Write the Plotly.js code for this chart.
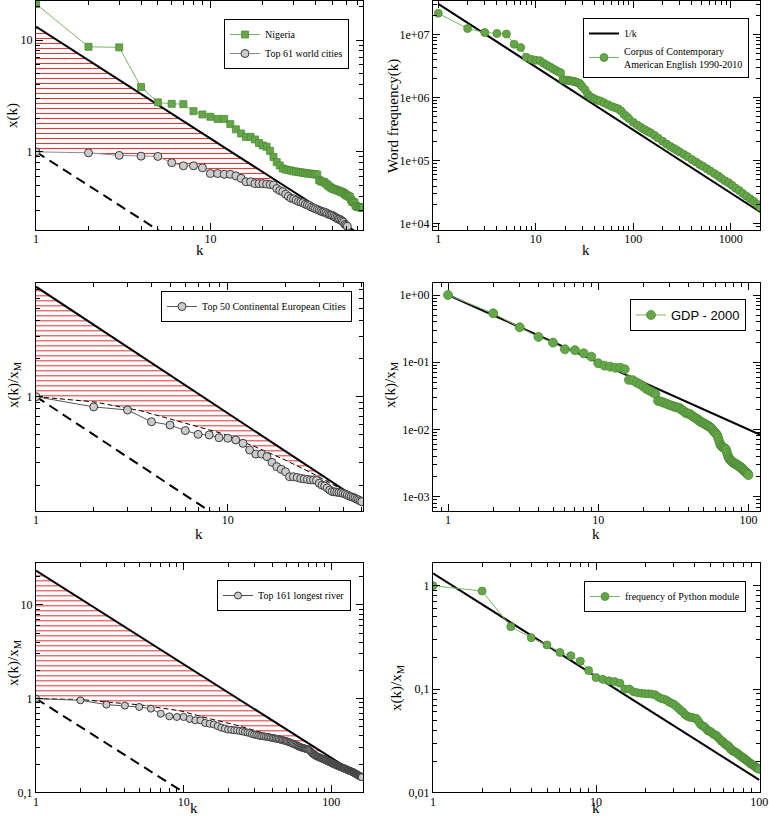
<!DOCTYPE html>
<html><head><meta charset="utf-8">
<script src="https://cdn.plot.ly/plotly-3.0.1.min.js"></script>
<style>html,body{margin:0;padding:0;background:#fff}#chart{width:769px;height:818px}</style>
</head><body><div id="chart"></div>
<script>
// ---------------- DATA ----------------
// Panel 1: Nigeria cities and top 61 world cities
const nigeriaVals = [21.0,8.7,8.6,3.8,2.77,2.69,2.67,2.31,2.16,2.06,1.97,1.97,1.77,1.59,1.46,1.36,1.36,1.29,1.20,1.14,1.11,1.02,0.90,0.81,0.755,0.71,0.695,0.686,
 0.68,0.67,0.665,0.66,0.655,0.65,0.645,0.64,0.64,0.635,0.63,0.63,0.625,
 0.56,0.545,0.54,0.535,0.52,0.505,0.49,0.48,0.47,
 0.465,0.46,0.455,0.45,0.445,0.44,0.435,
 0.43,0.42,0.41,0.405,0.40,0.395,
 0.375,0.36,0.355,0.35,
 0.33,0.325,0.322,0.32,0.32,0.318,0.317,0.316];
const worldCitiesVals = [1.0,0.98,0.93,0.915,0.91,0.80,0.75,0.75,0.72,0.64,0.64,0.63,0.63,0.61,0.58,0.54,0.54,0.52,0.52,0.52,0.515,0.51,0.505,0.47,0.45,0.44,0.418,0.40,0.385,0.38,
 0.37,0.36,0.355,0.35,0.34,0.335,0.33,0.32,0.315,0.31,
 0.305,0.30,0.295,0.29,0.29,0.285,0.28,0.275,0.272,0.27,
 0.265,0.26,0.255,0.25,0.25,0.245,0.24,0.235,0.225,0.22,0.216];
const hatchEnd1 = 22;           // rank where hatching stops (panel 1)
const refK1 = [1, 75];          // extent of reference lines (panel 1)

// Panel 2: word frequency (COCA)
const wordRanks = [1,2,3,4,5,6,7,8,9,10,11,12,13,14,15,16,17,18,19,20,21,22,23,24,25,26,27,28,29,30,32,34,36,38,40,43,46,50,55,60,65,70,75,80,85,90,100,110,120,130,140,150,165,180,200,220,240,260,280,300,330,360,400,440,480,520,570,620,680,740,800,870,950,1030,1120,1220,1330,1450,1580,1720,1860,2000];
const wordFreq = [2.2e7,1.26e7,1.09e7,1.05e7,1.03e7,7.1e6,6.3e6,4.4e6,4.1e6,3.95e6,3.9e6,3.55e6,3.3e6,3.1e6,2.9e6,2.75e6,2.6e6,2.5e6,1.95e6,1.92e6,1.9e6,1.88e6,1.86e6,1.84e6,1.82e6,1.78e6,1.74e6,1.7e6,1.6e6,1.5e6,1.35e6,1.15e6,1.05e6,1.0e6,9.6e5,9.2e5,8.9e5,8.4e5,7.8e5,7.3e5,7.0e5,6.7e5,6.2e5,5.5e5,5.1e5,4.7e5,4.1e5,3.7e5,3.4e5,3.15e5,2.95e5,2.8e5,2.55e5,2.3e5,2.05e5,1.85e5,1.7e5,1.58e5,1.48e5,1.38e5,1.27e5,1.17e5,1.05e5,9.6e4,8.8e4,8.2e4,7.5e4,6.9e4,6.3e4,5.8e4,5.3e4,4.85e4,4.5e4,4.1e4,3.7e4,3.4e4,3.05e4,2.75e4,2.5e4,2.3e4,2.05e4,1.85e4];
const zipfConst2 = 3.1e7;
const refK2 = [1, 2000];

// Panel 3: top 50 continental European cities
const euroCities = [1.0,0.83,0.785,0.634,0.597,0.54,0.504,0.498,0.474,0.469,0.455,0.428,0.379,0.352,0.352,0.336,0.303,0.28,0.267,0.255,
 0.233,0.233,0.23,0.226,0.224,0.222,0.22,0.22,0.218,0.207,0.2,0.197,0.19,0.183,0.178,0.177,0.176,0.175,0.174,0.172,
 0.17,0.167,0.164,0.162,0.16,0.158,0.155,0.153,0.15,0.148];
const boundK3 = [1, 2, 3.5, 6, 9.3, 14, 20, 28, 36, 45];          // thin dashed boundary curve
const boundY3 = [1, 0.91, 0.775, 0.62, 0.513, 0.40, 0.315, 0.245, 0.20, 0.165];
const refK3 = [1, 51];

// Panel 4: GDP 2000
const gdpVals = [1.0,0.534,0.331,0.238,0.196,0.156,0.151,0.136,0.121,0.0966,0.089,0.086,0.083,0.083,0.0787,0.0547,0.054,0.0499,0.047,0.0435,
 0.040,0.0377,0.0358,0.0338,0.0267,0.026,0.0253,0.0245,0.0238,0.023,0.0225,0.0219,0.0214,0.0212,0.0207,0.0195,0.0189,0.0178,0.0174,0.0172,
 0.0168,0.016,0.0155,0.015,0.0145,0.0142,0.0135,0.013,0.0128,0.0124,0.0122,0.0118,0.0115,0.0113,0.011,0.0106,0.0103,0.0098,0.0093,0.009,
 0.0086,0.0082,0.0074,0.0066,0.006,0.0057,0.0055,0.0054,0.0053,0.0052,0.005,0.0045,0.0041,0.0038,0.0036,0.0035,0.0034,0.0033,0.0032,0.0032,
 0.0031,0.0031,0.003,0.003,0.0029,0.0029,0.0028,0.0028,0.0027,0.0027,0.0026,0.0025,0.0025,0.0024,0.0024,0.0023,0.0023,0.0022,0.0022,0.0021];
const refK4 = [1, 120];

// Panel 5: top 161 longest rivers
const riverVals = [1.0,0.96,0.863,0.842,0.815,0.782,0.69,0.647,0.637,0.637,0.607,0.587,0.587,0.55,0.54,0.53,0.51,0.49,0.48,0.467,
 0.465,0.46,0.457,0.452,0.448,0.44,0.435,0.43,0.42,0.413,
 0.41,0.405,0.40,0.398,0.395,0.392,0.39,0.387,0.383,0.38,
 0.377,0.375,0.372,0.37,0.366,0.362,0.36,0.356,0.353,0.35,
 0.346,0.342,0.338,0.334,0.33,0.327,0.322,0.318,0.314,0.31,
 0.306,0.303,0.30,0.298,0.296,0.294,0.292,0.29,0.288,0.286,
 0.282,0.276,0.27,0.264,0.258,0.254,0.25,0.247,0.244,0.242,
 0.24,0.238,0.236,0.234,0.232,0.23,0.228,0.226,0.225,0.223,
 0.221,0.22,0.218,0.216,0.214,0.213,0.211,0.21,0.208,0.206,
 0.205,0.203,0.202,0.2,0.199,0.198,0.196,0.195,0.194,0.192,
 0.191,0.19,0.189,0.188,0.187,0.186,0.185,0.184,0.183,0.182,
 0.181,0.18,0.179,0.178,0.177,0.176,0.175,0.174,0.173,0.172,
 0.171,0.17,0.17,0.169,0.168,0.167,0.166,0.166,0.165,0.164,
 0.163,0.162,0.161,0.16,0.159,0.158,0.157,0.156,0.155,0.154,
 0.153,0.152,0.151,0.15,0.15,0.149,0.148,0.147,0.146,0.146,0.145];
const boundK5 = [1, 2, 3, 5, 9.5, 14.4, 21.8, 33.6, 37];           // thin dashed boundary curve
const boundY5 = [1, 0.98, 0.92, 0.86, 0.74, 0.62, 0.53, 0.437, 0.41];
const hatchEnd5 = 95;           // hatching follows the data from the end of the dashed curve to this rank
const refK5 = [1, 164];

// Panel 6: Python module frequency
const pythonVals = [1.0,0.888,0.401,0.314,0.267,0.226,0.21,0.186,0.151,0.129,
 0.124,0.12,0.118,0.114,0.1,0.1,0.094,0.092,0.091,0.09,
 0.09,0.089,0.088,0.084,0.081,0.08,0.078,0.075,0.073,0.071,
 0.068,0.065,0.062,0.06,0.057,0.055,0.054,0.053,0.053,0.052,
 0.052,0.05,0.047,0.045,0.044,0.043,0.042,0.04,0.039,0.039,
 0.038,0.037,0.036,0.036,0.035,0.034,0.033,0.032,0.031,0.031,
 0.03,0.029,0.029,0.028,0.028,0.027,0.026,0.026,0.025,0.025,
 0.0247,0.0243,0.024,0.0236,0.0232,0.0228,0.0224,0.0221,0.0218,0.0215,
 0.0212,0.0209,0.0206,0.0203,0.02,0.0197,0.0194,0.0191,0.0188,0.0186,
 0.0185,0.0184,0.0181,0.0178,0.0176,0.0174,0.0172,0.017,0.0168,0.0167];
const zipfConst6 = 1.32;
const refK6 = [1, 100];

// Tick labels
const ticks1x = [1,10], ticks1xText = ['1','10'];
const ticks1y = [1,10], ticks1yText = ['1','10'];
const ticks2x = [1,10,100,1000], ticks2xText = ['1','10','100','1000'];
const ticks2y = [1e4,1e5,1e6,1e7], ticks2yText = ['1e+04','1e+05','1e+06','1e+07'];
const ticks3x = [1,10], ticks3xText = ['1','10'];
const ticks3y = [1], ticks3yText = ['1'];
const ticks4x = [1,10,100], ticks4xText = ['1','10','100'];
const ticks4y = [1e-3,1e-2,1e-1,1], ticks4yText = ['1e-03','1e-02','1e-01','1e+00'];
const ticks5x = [1,10,100], ticks5xText = ['1','10','100'];
const ticks5y = [0.1,1,10], ticks5yText = ['0,1','1','10'];
const ticks6x = [1,10,100], ticks6xText = ['1','10','100'];
const ticks6y = [0.01,0.1,1], ticks6yText = ['0,01','0,1','1'];

// Axis titles
const xTitle = 'k';
const yTitle1 = 'x(k)';
const yTitle2 = 'Word frequency(k)';
const yTitleNorm = 'x(k)/x<sub>M</sub>';

// ---------------- HELPERS ----------------
const SERIF = 'Liberation Serif, Times New Roman, serif';
const SANS = 'Liberation Sans, Arial, sans-serif';
const GREEN = '#64a648', GREEN_EDGE = '#4e8c36';
const GRAY = '#cbcbcb', GRAY_EDGE = '#3a3a3a';
const HATCH = {shape:'-', fgcolor:'#e23a3a', bgcolor:'white', size:5, solidity:0.22};
const ranks = arr => arr.map((_, i) => i + 1);
const W = 769, H = 818;
const px = v => v / W, py = v => 1 - v / H;

function minorVals(r) {
  const out = [];
  for (let d = Math.floor(r[0]); d <= Math.ceil(r[1]); d++)
    for (let m = 2; m <= 9; m++) {
      const v = m * Math.pow(10, d), l = Math.log10(v);
      if (l > r[0] && l < r[1]) out.push(v);
    }
  return out;
}
function ax(dom, range, tv, tt, anchor, isX) {
  const a = {
    type:'log', domain:dom, range:range, anchor:anchor,
    tickmode:'array', tickvals:tv, ticktext:tt,
    ticks:'inside', ticklen:7, tickwidth:1, tickcolor:'black',
    showline:true, linecolor:'black', linewidth:1, mirror:'allticks',
    showgrid:false, zeroline:false,
    minor:{tickmode:'array', tickvals:minorVals(range), ticks:'inside', ticklen:4, tickcolor:'black', tickwidth:1, showgrid:false},
    tickfont:{family:SERIF, size:12, color:'black'},
    automargin:false
  };
  if (isX) a.ticklabelstandoff = -2;
  return a;
}
function zipfLine(C, kr, xa, ya, extra) {
  return Object.assign({x:kr, y:kr.map(k => C / k), mode:'lines', xaxis:xa, yaxis:ya,
    line:{color:'black', width:2}, showlegend:false, hoverinfo:'skip'}, extra || {});
}
function hatchPair(kLow, yLow, C, xa, ya) {
  return [
    {x:kLow, y:yLow, mode:'lines', line:{width:0, color:'rgba(0,0,0,0)'}, xaxis:xa, yaxis:ya, showlegend:false, hoverinfo:'skip'},
    {x:kLow, y:kLow.map(k => C / k), mode:'lines', line:{width:0, color:'rgba(0,0,0,0)'}, fill:'tonexty', fillcolor:'white', fillpattern:HATCH, xaxis:xa, yaxis:ya, showlegend:false, hoverinfo:'skip'}
  ];
}
const thinDash = {color:'black', width:1, dash:'5px,3px'};
const thickDash = {color:'black', width:2, dash:'10px,6px'};

// ---------------- TRACES ----------------
const traces = [];
// Panel 1
const k1 = ranks(worldCitiesVals), N1 = k1.length, C1 = worldCitiesVals[N1 - 1] * N1;
traces.push(...hatchPair(k1.slice(0, hatchEnd1), worldCitiesVals.slice(0, hatchEnd1), C1, 'x', 'y'));
traces.push(zipfLine(C1, refK1, 'x', 'y'));
traces.push({x:refK1, y:refK1.map(k => 1 / k), mode:'lines', xaxis:'x', yaxis:'y', line:thickDash, showlegend:false, hoverinfo:'skip'});
traces.push({x:ranks(nigeriaVals), y:nigeriaVals, name:'Nigeria', mode:'lines+markers', xaxis:'x', yaxis:'y', legend:'legend',
  line:{color:'#7bb567', width:1}, marker:{symbol:'square', size:7, color:GREEN, line:{color:GREEN_EDGE, width:0.8}}});
traces.push({x:k1, y:worldCitiesVals, name:'Top 61 world cities', mode:'lines+markers', xaxis:'x', yaxis:'y', legend:'legend',
  line:{color:'#8a8a8a', width:1}, marker:{symbol:'circle', size:8, color:GRAY, line:{color:GRAY_EDGE, width:1}}});

// Panel 2
traces.push(zipfLine(zipfConst2, refK2, 'x2', 'y2', {name:'1/k', showlegend:true, legend:'legend2'}));
traces.push({x:wordRanks, y:wordFreq, name:'Corpus of Contemporary<br>American English 1990-2010', mode:'lines+markers', xaxis:'x2', yaxis:'y2', legend:'legend2',
  line:{color:'#7bb567', width:1}, marker:{symbol:'circle', size:8, color:GREEN, line:{color:GREEN_EDGE, width:0.8}}});

// Panel 3
const k3 = ranks(euroCities), N3 = k3.length, C3 = euroCities[N3 - 1] * N3;
traces.push(...hatchPair(boundK3, boundY3, C3, 'x3', 'y3'));
traces.push(zipfLine(C3, refK3, 'x3', 'y3'));
traces.push({x:boundK3, y:boundY3, mode:'lines', xaxis:'x3', yaxis:'y3', line:thinDash, showlegend:false, hoverinfo:'skip'});
traces.push({x:refK3, y:refK3.map(k => 1 / k), mode:'lines', xaxis:'x3', yaxis:'y3', line:thickDash, showlegend:false, hoverinfo:'skip'});
traces.push({x:k3, y:euroCities, name:'Top 50 Continental European Cities', mode:'lines+markers', xaxis:'x3', yaxis:'y3', legend:'legend3',
  line:{color:'#555', width:1}, marker:{symbol:'circle', size:8, color:GRAY, line:{color:GRAY_EDGE, width:1}}});

// Panel 4
traces.push(zipfLine(gdpVals[0], refK4, 'x4', 'y4'));
traces.push({x:ranks(gdpVals), y:gdpVals, name:'GDP - 2000', mode:'lines+markers', xaxis:'x4', yaxis:'y4', legend:'legend4',
  line:{color:'#7bb567', width:1}, marker:{symbol:'circle', size:9, color:GREEN, line:{color:GREEN_EDGE, width:0.8}}});

// Panel 5
const k5 = ranks(riverVals), N5 = k5.length, C5 = riverVals[N5 - 1] * N5;
const startTail5 = Math.ceil(boundK5[boundK5.length - 1]) + 1;
const lowK5 = boundK5.concat(k5.slice(startTail5 - 1, hatchEnd5));
const lowY5 = boundY5.concat(riverVals.slice(startTail5 - 1, hatchEnd5));
traces.push(...hatchPair(lowK5, lowY5, C5, 'x5', 'y5'));
traces.push(zipfLine(C5, refK5, 'x5', 'y5'));
traces.push({x:boundK5, y:boundY5, mode:'lines', xaxis:'x5', yaxis:'y5', line:thinDash, showlegend:false, hoverinfo:'skip'});
traces.push({x:refK5, y:refK5.map(k => 1 / k), mode:'lines', xaxis:'x5', yaxis:'y5', line:thickDash, showlegend:false, hoverinfo:'skip'});
traces.push({x:k5, y:riverVals, name:'Top 161 longest river', mode:'lines+markers', xaxis:'x5', yaxis:'y5', legend:'legend5',
  line:{color:'#555', width:1}, marker:{symbol:'circle', size:7, color:GRAY, line:{color:GRAY_EDGE, width:1}}});

// Panel 6
traces.push(zipfLine(zipfConst6, refK6, 'x6', 'y6'));
traces.push({x:ranks(pythonVals), y:pythonVals, name:'frequency of Python module', mode:'lines+markers', xaxis:'x6', yaxis:'y6', legend:'legend6',
  line:{color:'#7bb567', width:1}, marker:{symbol:'circle', size:8, color:GREEN, line:{color:GREEN_EDGE, width:0.8}}});

// ---------------- LAYOUT ----------------
const colL = [px(36), px(363)], colR = [px(433), px(760)];
const row1 = [py(230), py(1)], row2 = [py(510.7), py(283.3)], row3 = [py(792.3), py(563.3)];
function leg(xr, yt, font) {
  return {x:px(xr), y:py(yt), xanchor:'right', yanchor:'top', bordercolor:'black', borderwidth:1, bgcolor:'white',
    font:font || {family:SERIF, size:10, color:'black'}, tracegroupgap:0, itemwidth:30, traceorder:'normal'};
}
const titleFont = {family:SERIF, size:15, color:'black'};
function xt(x, y, anchor) { return {text:xTitle, x:px(x), y:py(y), xref:'paper', yref:'paper', xanchor:'center', yanchor:anchor || 'middle', showarrow:false, font:titleFont}; }
function yt(text, x, y) { return {text:text, x:px(x), y:py(y), xref:'paper', yref:'paper', xanchor:'center', yanchor:'middle', textangle:-90, showarrow:false, font:titleFont}; }

const layout = {
  width:W, height:H, margin:{l:0, r:0, t:0, b:0}, paper_bgcolor:'white', plot_bgcolor:'white',
  showlegend:true,
  xaxis: ax(colL, [0, Math.log10(75)], ticks1x, ticks1xText, 'y', true),
  yaxis: ax(row1, [Math.log10(0.2), 1.349], ticks1y, ticks1yText, 'x'),
  xaxis2: ax(colR, [-0.054, 3.30], ticks2x, ticks2xText, 'y2', true),
  yaxis2: ax(row1, [3.904, 7.537], ticks2y, ticks2yText, 'x2'),
  xaxis3: ax(colL, [0, 1.705], ticks3x, ticks3xText, 'y3', true),
  yaxis3: ax(row2, [-0.901, 0.896], ticks3y, ticks3yText, 'x3'),
  xaxis4: ax(colR, [-0.1, 2.077], ticks4x, ticks4xText, 'y4', true),
  yaxis4: ax(row2, [-3.208, 0.174], ticks4y, ticks4yText, 'x4'),
  xaxis5: ax(colL, [0, 2.215], ticks5x, ticks5xText, 'y5', true),
  yaxis5: ax(row3, [-1, 1.445], ticks5y, ticks5yText, 'x5'),
  xaxis6: ax(colR, [0, 2.005], ticks6x, ticks6xText, 'y6', true),
  yaxis6: ax(row3, [-2, 0.217], ticks6y, ticks6yText, 'x6'),
  legend: leg(349, 19),
  legend2: leg(749, 18),
  legend3: leg(352, 291),
  legend4: leg(746, 299, {family:SANS, size:13, color:'black'}),
  legend5: leg(351, 580),
  legend6: leg(746, 581),
  annotations: [
    xt(200, 250), xt(586, 250), xt(199, 534), xt(596, 534), xt(194, 818, 'bottom'), xt(596, 818, 'bottom'),
    yt(yTitle1, 13, 116), yt(yTitle2, 394, 116), yt(yTitleNorm, 14, 385), yt(yTitleNorm, 391, 385),
    yt(yTitleNorm, 14, 663), yt(yTitleNorm, 397, 688)
  ]
};
Plotly.newPlot('chart', traces, layout, {staticPlot:true, displayModeBar:false});
</script></body></html>
